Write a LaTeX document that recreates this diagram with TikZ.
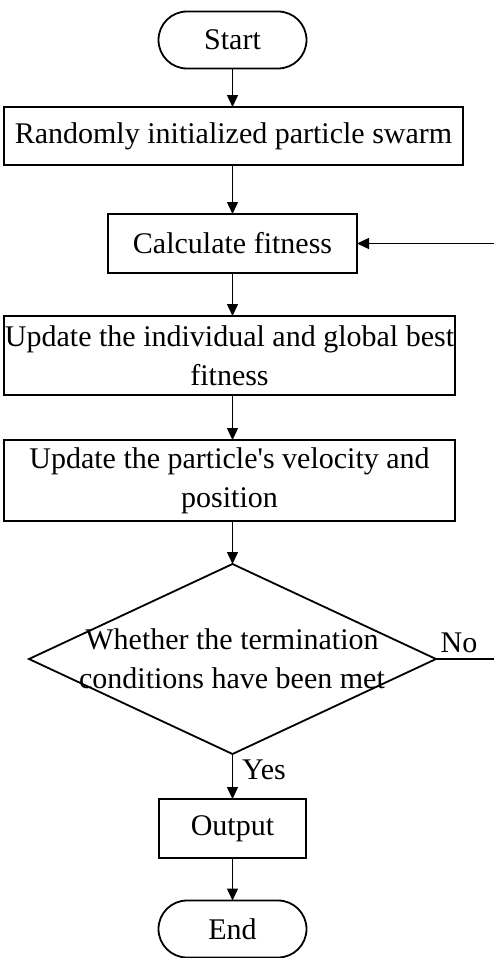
\documentclass[tikz,border=0pt]{standalone}
\usepackage{fontspec}
\setmainfont{Liberation Serif}
\usetikzlibrary{arrows.meta,shapes.geometric}
\begin{document}
\begin{tikzpicture}[x=1pt,y=-1pt,
  every node/.style={font=\fontsize{30}{39}\selectfont, inner sep=0pt, outer sep=0pt},
  box/.style={draw, line width=1.8pt, align=center},
  term/.style={draw, line width=1.8pt, rounded corners=28.5pt, minimum width=148pt, minimum height=57pt},
  decision/.style={draw, diamond, line width=1.8pt},
  arr/.style={line width=1.4pt, -{Triangle[length=12pt,width=11pt]}}]
\useasboundingbox (0,0) rectangle (493,958);
\fill[white] (0,0) rectangle (493,958);
\node[term] (start) at (232.5,40) {Start};
\node[box, minimum width=459pt, minimum height=58pt] (init) at (233.5,136) {Randomly initialized particle swarm};
\node[box, minimum width=249pt, minimum height=59pt] (calc) at (232.5,243.5) {Calculate fitness};
\node[box, minimum width=451pt, minimum height=79pt] (best) at (229.5,355.5) {Update the individual and global best\\fitness};
\node[box, minimum width=451pt, minimum height=81pt] (vel) at (229.5,480.5) {Update the particle\textquotesingle s velocity and\\position};
\node[decision, minimum width=407pt, minimum height=190pt] (dec) at (232.5,659) {};
\node[align=center] (dectext) at (232,659) {Whether the termination\\conditions have been met};
\node[box, minimum width=147pt, minimum height=59pt] (out) at (232.5,828.5) {Output};
\node[term] (end) at (232.5,929) {End};
\node (yes) at (264,770) {Yes};
\node (no) at (459,643) {No};
\coordinate (r1) at (500,659);
\coordinate (r2) at (500,243.5);
\draw[arr] (start) -- (start |- init.north);
\draw[arr] (init.south -| calc) -- (calc);
\draw[arr] (calc) -- (calc |- best.north);
\draw[arr] (calc |- best.south) -- (calc |- vel.north);
\draw[arr] (calc |- vel.south) -- (dec.north);
\draw[arr] (dec) -- (dec |- out.north);
\draw[arr] (out) -- (end);
\draw[arr] (dec.east) -- (r1) -- (r2) -- (calc.east);
\end{tikzpicture}
\end{document}
